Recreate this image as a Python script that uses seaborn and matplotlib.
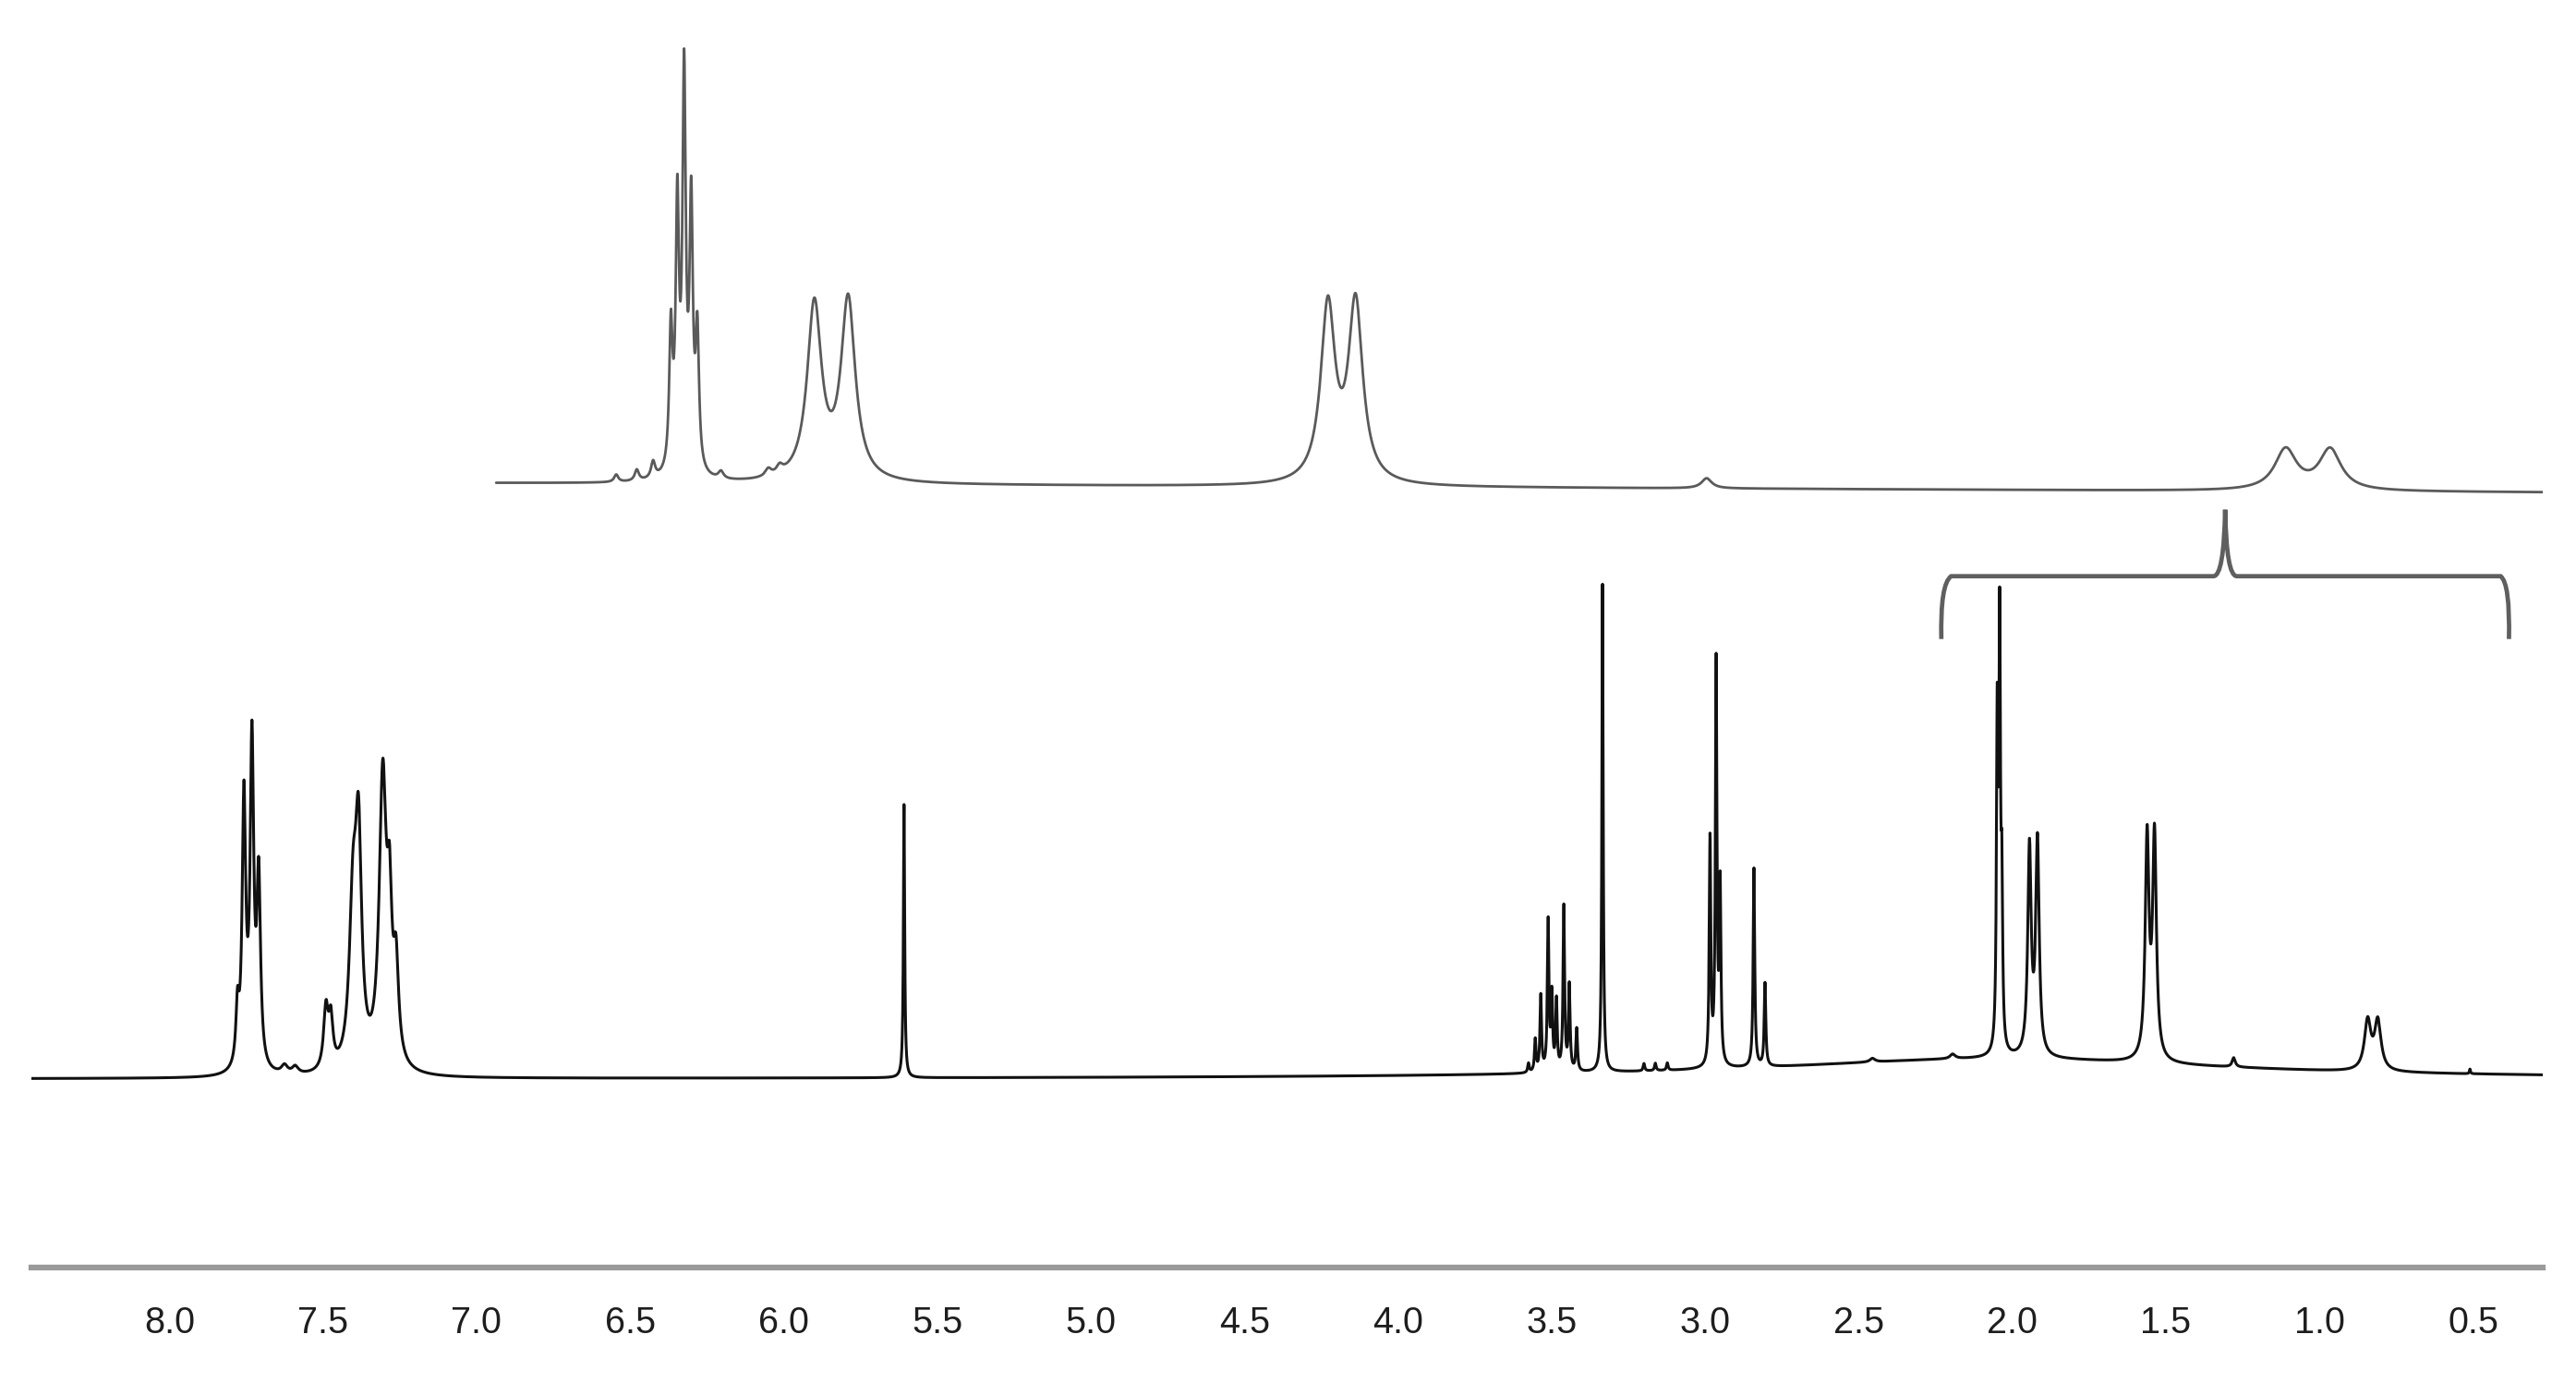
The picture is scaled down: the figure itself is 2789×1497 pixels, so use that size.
import numpy as np
import pandas as pd
import matplotlib
matplotlib.use("Agg")
import matplotlib.pyplot as plt
from matplotlib.ticker import MultipleLocator, FormatStrFormatter
from matplotlib.path import Path
from matplotlib.patches import PathPatch
import seaborn as sns

###################################
# Peak tables (ppm, height, half width)
###################################
lower_ppm = [7.778, 7.757, 7.731, 7.709, 7.625, 7.590, 7.490, 7.474,
             7.402, 7.384, 7.305, 7.283, 7.262, 5.608,
             3.575, 3.553, 3.535, 3.511, 3.499, 3.484, 3.460, 3.442, 3.418,
             3.334, 3.199, 3.162, 3.123, 2.984, 2.964, 2.951, 2.841, 2.805,
             2.455, 2.194, 2.049, 2.041, 2.034, 1.944, 1.918, 1.561, 1.537,
             1.279, 0.843, 0.810, 0.510, 2.05]
lower_height = [60, 290, 348, 200, 9, 8, 65, 50,
                168, 232, 312, 140, 100, 296,
                10, 35, 82, 162, 80, 75, 178, 92, 46,
                528, 8, 8, 8, 245, 435, 190, 215, 90,
                4, 5, 345, 442, 160, 224, 231, 238, 240,
                10, 53, 53, 5, 22]
lower_hwhm = [0.006, 0.007, 0.007, 0.007, 0.012, 0.012, 0.009, 0.008,
              0.014, 0.012, 0.014, 0.009, 0.010, 0.0025,
              0.003, 0.003, 0.003, 0.003, 0.003, 0.003, 0.003, 0.003, 0.003,
              0.0025, 0.003, 0.003, 0.003, 0.003, 0.003, 0.003, 0.003, 0.003,
              0.01, 0.01, 0.003, 0.003, 0.003, 0.0066, 0.0066, 0.0073, 0.0073,
              0.006, 0.0125, 0.0125, 0.002, 0.9]

upper_ppm = [6.545, 6.478, 6.425, 6.367, 6.346, 6.324, 6.301, 6.281,
             6.204, 6.050, 6.013, 5.900, 5.790, 4.228, 4.138, 2.995,
             1.110, 0.965]
upper_height = [8, 12, 18, 150, 280, 420, 280, 145,
                8, 8, 8, 190, 195, 190, 193, 11,
                44, 44]
upper_hwhm = [0.008, 0.008, 0.008, 0.0065, 0.0065, 0.0065, 0.0065, 0.0065,
              0.01, 0.012, 0.012, 0.028, 0.028, 0.028, 0.028, 0.02,
              0.043, 0.043]

# bracket over the 2.2 - 0.4 ppm region
bracket_ppm = [2.231, 2.199, 1.307, 0.410, 0.383]
bracket_level = [680, 748, 820]

tick_values = np.arange(0.5, 8.01, 0.5)

###################################
# Build the traces
###################################
def spectrum(x, ppm, height, hwhm):
    y = np.zeros_like(x)
    for c, h, g in zip(ppm, height, hwhm):
        y += h / (1 + ((x - c) / g) ** 2)
    return y

x_left, x_right = 8.449, 0.273
lower_offset = 203.7
upper_offset = (848.7, 838.7)

x_low = np.linspace(x_right, x_left, 24000)
lower = pd.DataFrame({"ppm": x_low,
                      "y": lower_offset + spectrum(x_low, lower_ppm, lower_height, lower_hwhm)})
x_up = np.linspace(x_right, 6.936, 20000)
tilt = np.interp(x_up, [x_right, 6.936], [upper_offset[1], upper_offset[0]])
upper = pd.DataFrame({"ppm": x_up,
                      "y": tilt + spectrum(x_up, upper_ppm, upper_height, upper_hwhm)})

###################################
# Plot
###################################
sns.set_style("white")
plt.rcParams['font.family'] = ['Liberation Sans', 'DejaVu Sans']

fig = plt.figure(figsize=(27.89, 14.97), dpi=100)
ax = fig.add_axes([34 / 2789, 125.3 / 1497, (2753 - 34) / 2789, 1371.7 / 1497])

sns.lineplot(data=upper, x="ppm", y="y", ax=ax, color="#5a5a5a",
             linewidth=2.0, estimator=None, sort=False)
sns.lineplot(data=lower, x="ppm", y="y", ax=ax, color="#111111",
             linewidth=2.2, estimator=None, sort=False)

# bracket
foot, bar, tip = bracket_level
b0, b1, bt, b3, b4 = bracket_ppm
verts = [(b0, foot), (b0 + 0.004, bar - 8), (b1, bar),
         (bt + 0.038, bar), (bt + 0.004, bar), (bt, tip),
         (bt - 0.004, bar), (bt - 0.038, bar),
         (b3, bar), (b4 - 0.004, bar - 8), (b4, foot)]
codes = [Path.MOVETO, Path.CURVE3, Path.CURVE3,
         Path.LINETO, Path.CURVE3, Path.CURVE3,
         Path.CURVE3, Path.CURVE3,
         Path.LINETO, Path.CURVE3, Path.CURVE3]
ax.add_patch(PathPatch(Path(verts, codes), fill=False, edgecolor="#5f5f5f",
                       linewidth=3.4, capstyle="butt"))

ax.set_xlim(x_left, x_right)
ax.set_ylim(0, 1371.7)
ax.set_xticks(tick_values)
ax.xaxis.set_major_formatter(FormatStrFormatter('%.1f'))
ax.xaxis.set_minor_locator(MultipleLocator(0.25))
ax.set_yticks([])
ax.set_xlabel("")
ax.set_ylabel("")
for side in ["top", "left", "right"]:
    ax.spines[side].set_visible(False)
ax.spines["bottom"].set_color("#9a9a9a")
ax.spines["bottom"].set_linewidth(4.5)
ax.tick_params(axis="x", which="major", direction="out", length=13, width=1.1,
               color="#444444", pad=17, labelsize=28.5, labelcolor="#1e1e1e")
ax.tick_params(axis="x", which="minor", direction="out", length=7, width=1.1,
               color="#444444")
ax.patch.set_alpha(0)

fig.savefig("out.png", dpi=100, facecolor="white")
